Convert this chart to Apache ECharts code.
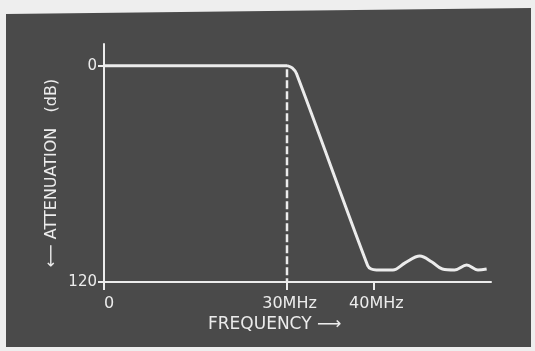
<!DOCTYPE html>
<html>
<head>
<meta charset="utf-8">
<script src="https://cdn.jsdelivr.net/npm/echarts@6/dist/echarts.min.js"></script>
<style>
    html, body { margin: 0; padding: 0; background: #eeeeee; }
    #chart { width: 535px; height: 351px; }
</style>
</head>
<body>
<div id="chart"></div>
<script>
    // passband, 0 .. 30 MHz (drawn on its own scale, the figure is not to scale)
    var passMHz = [0, 30];
    var passDb = [0, 0];
    // roll-off and stopband ripple, 30 .. 53 MHz
    var stopMHz = [30, 30.6, 31.1, 39.3, 39.7, 40.3, 42.2, 43.6, 45.3, 46.7, 47.9, 49.3, 50.7, 52.0, 53.0];
    var stopDb = [0, 1.2, 4.5, 111, 112.8, 113.3, 113.3, 109.4, 105.6, 108.9, 112.8, 113.3, 110.6, 113.3, 112.8];
    // dashed cut-off marker
    var cutoffMHz = [30, 30];
    var cutoffDb = [2, 120];
    // tick labels
    var lowTicks = [0];
    var highTicks = [30, 40];
    var dbTicks = [0, 120];

    var fg = '#ececec';
    var font = 'DejaVu Sans';

    function pairs(xs, ys) {
        var out = [];
        for (var i = 0; i < xs.length; i++) {
            out.push([xs[i], ys[i]]);
        }
        return out;
    }

    var chart = echarts.init(document.getElementById('chart'));
    chart.setOption({
        backgroundColor: '#eeeeee',
        animation: false,
        graphic: [{
            type: 'polygon',
            z: -10,
            silent: true,
            shape: { points: [[6, 14], [531, 8], [531, 347], [6, 347]] },
            style: { fill: '#4a4a4a' }
        }],
        title: {
            text: 'FREQUENCY \u27F6',
            left: 203,
            top: 311,
            textStyle: { color: fg, fontFamily: font, fontSize: 17, fontWeight: 'normal' }
        },
        grid: [
            { left: 104, right: 248, top: 44, bottom: 69 },
            { left: 287, right: 44, top: 44, bottom: 69 }
        ],
        xAxis: [
            {
                gridIndex: 0, type: 'value', min: 0, max: 30,
                splitLine: { show: false },
                axisLine: { onZero: false, lineStyle: { color: fg, width: 2 } },
                axisTick: { customValues: lowTicks, length: 8, lineStyle: { color: fg, width: 2 } },
                axisLabel: { customValues: lowTicks, color: fg, fontFamily: font, fontSize: 16, margin: 14,
                    formatter: function (v) { return '  ' + v; } }
            },
            {
                gridIndex: 1, type: 'value', min: 30, max: 53.5,
                splitLine: { show: false },
                axisLine: { onZero: false, lineStyle: { color: fg, width: 2 } },
                axisTick: { customValues: highTicks, length: 8, lineStyle: { color: fg, width: 2 } },
                axisLabel: { customValues: highTicks, color: fg, fontFamily: font, fontSize: 16, margin: 14,
                    formatter: function (v) { return ' ' + v + 'MHz'; } }
            }
        ],
        yAxis: [
            {
                gridIndex: 0, type: 'value', min: -12, max: 120, inverse: true,
                splitLine: { show: false },
                axisLine: { lineStyle: { color: fg, width: 2 } },
                axisTick: { customValues: dbTicks, length: 6, lineStyle: { color: fg, width: 2 } },
                axisLabel: { customValues: dbTicks, color: fg, fontFamily: font, fontSize: 15, margin: 7 },
                name: '\u27F5 ATTENUATION   (dB)',
                nameLocation: 'middle',
                nameGap: 44,
                nameTextStyle: { color: fg, fontFamily: font, fontSize: 16, padding: [0, 20, 0, 0] }
            },
            {
                gridIndex: 1, type: 'value', min: -12, max: 120, inverse: true, show: false
            }
        ],
        series: [
            {
                type: 'line', xAxisIndex: 0, yAxisIndex: 0,
                data: pairs(passMHz, passDb),
                showSymbol: false,
                lineStyle: { color: fg, width: 3 }
            },
            {
                type: 'line', xAxisIndex: 1, yAxisIndex: 1,
                data: pairs(stopMHz, stopDb),
                smooth: 0.35,
                showSymbol: false,
                lineStyle: { color: fg, width: 3 }
            },
            {
                type: 'line', xAxisIndex: 1, yAxisIndex: 1,
                data: pairs(cutoffMHz, cutoffDb),
                showSymbol: false,
                lineStyle: { color: fg, width: 2.5, type: [8, 3] }
            }
        ]
    });
</script>
</body>
</html>
